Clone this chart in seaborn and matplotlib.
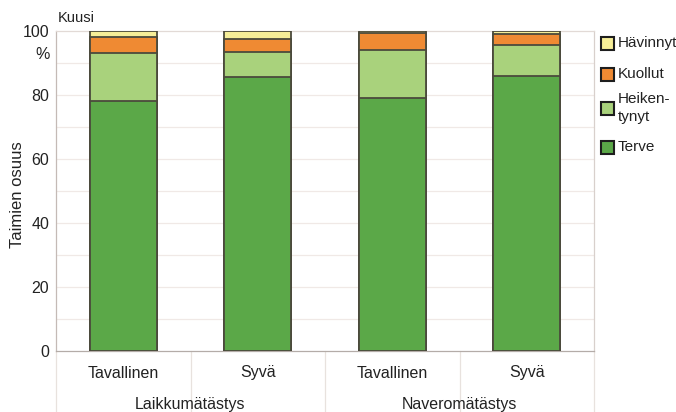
import matplotlib
matplotlib.use("Agg")
import matplotlib.pyplot as plt
import matplotlib.transforms as mtransforms
from matplotlib.patches import Rectangle
import numpy as np
import pandas as pd
import seaborn as sns

# Data: share of seedlings (%) by soil preparation method and planting depth
methods = ["Tavallinen", "Syvä", "Tavallinen", "Syvä"]
groups = ["Laikkumätästys", "Naveromätästys"]
terve = [78.0, 85.5, 79.0, 86.0]
heikentynyt = [15.0, 8.0, 15.0, 9.5]
kuollut = [5.0, 4.0, 5.5, 3.5]
havinnyt = [2.0, 2.5, 0.5, 1.0]
yticks = [0, 20, 40, 60, 80, 100]

series_names = ["Terve", "Heiken-\ntynyt", "Kuollut", "Hävinnyt"]
colors = ["#5ba848", "#a9d27c", "#ef8a33", "#f6ee98"]
edge = "#4b4a3c"
txt = "#222222"

sns.set_theme(style="white")
plt.rcParams["font.family"] = ["Liberation Sans", "DejaVu Sans"]

W, H = 676, 412
fig = plt.figure(figsize=(W / 100, H / 100), dpi=100)
ax = fig.add_axes([56 / W, 1 - 351 / H, (594 - 56) / W, 320 / H])

cats = [f"{i}" for i in range(len(methods))]
layers = [terve, heikentynyt, kuollut, havinnyt]
cum = np.cumsum(np.array(layers), axis=0)

# draw stacked bars from the top layer down so each lower segment covers the upper one
for k in range(len(layers) - 1, -1, -1):
    df = pd.DataFrame({"cat": cats, "val": cum[k]})
    sns.barplot(data=df, x="cat", y="val", order=cats, color=colors[k],
                saturation=1, width=0.5, edgecolor=edge, linewidth=1.3,
                ax=ax, zorder=3)

ax.set_xlim(-0.5, len(methods) - 0.5)
ax.set_ylim(0, 100)
ax.set_yticks(yticks)
ax.set_yticklabels([str(t) for t in yticks], fontsize=11.5, color=txt)
ax.grid(False)
for v in np.arange(10, 100, 10):
    ax.axhline(v, color="#f0e9e6", lw=0.9, zorder=1)
ax.tick_params(axis="y", which="major", length=3, width=0.8, color="#b8aeaa", pad=2)
ax.set_xticks([])
ax.set_xlabel("")
ax.set_ylabel("")

for side, col in [("left", "#c4bab6"), ("right", "#d8d0cc"), ("top", "#e2dad6"), ("bottom", "#b4aca8")]:
    ax.spines[side].set_visible(True)
    ax.spines[side].set_color(col)
    ax.spines[side].set_linewidth(0.9)

# category table below the axis
trans = mtransforms.blended_transform_factory(ax.transData, ax.transAxes)
for i, m in enumerate(methods):
    ax.text(i, -22 / 320, m, transform=trans, ha="center", va="center",
            fontsize=11.5, color=txt)
for j, g in enumerate(groups):
    ax.text(2 * j + 0.5, -54 / 320, g, transform=trans, ha="center", va="center",
            fontsize=11.5, color=txt)
for xb in np.arange(-0.5, len(methods), 1.0):
    ax.plot([xb, xb], [0, -0.2], transform=trans, color="#e8e2de", lw=0.9,
            clip_on=False)

# unit and species labels
ax.text(-0.012, 92.8, "%", transform=mtransforms.blended_transform_factory(ax.transAxes, ax.transData),
        ha="right", va="center", fontsize=11.5, color=txt)
fig.text(58 / W, 1 - 18 / H, "Kuusi", ha="left", va="center", fontsize=10.5, color=txt)
fig.text(18 / W, 1 - 195 / H, "Taimien osuus", rotation=90, ha="center",
         va="center", fontsize=12, color=txt)

# legend keys, top to bottom
key_y = [43, 74, 108, 147]
for (k, yc) in zip(range(len(layers) - 1, -1, -1), key_y):
    fig.patches.append(Rectangle((601 / W, 1 - (yc + 6.5) / H), 13 / W, 13 / H,
                                 transform=fig.transFigure, facecolor=colors[k],
                                 edgecolor="#1e1e1e", linewidth=1.5))
    fig.text(618 / W, 1 - yc / H, series_names[k], ha="left", va="center",
             fontsize=11, color=txt, linespacing=1.35)

fig.savefig("out.png", dpi=100)
